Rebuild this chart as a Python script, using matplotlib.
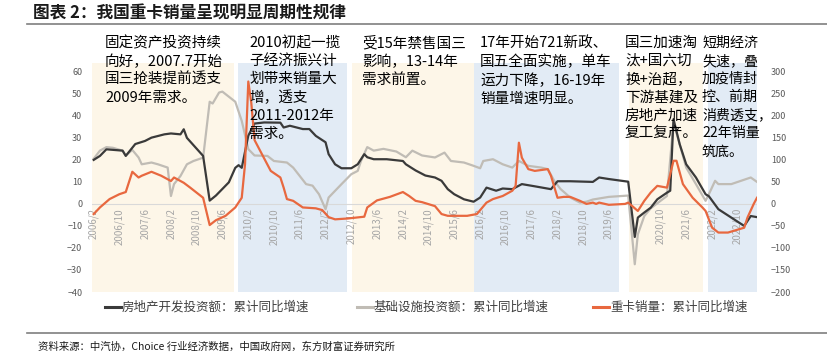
import matplotlib

matplotlib.use("Agg")
import matplotlib.pyplot as plt
from matplotlib.lines import Line2D
import pandas as pd

plt.rcParams["font.family"] = ["Noto Sans CJK SC", "DejaVu Sans"]

# 房地产开发投资额：累计同比增速 (%, left axis)
RE_DATES = [
    "2006-02", "2006-04", "2006-06", "2006-11", "2006-12", "2007-03", "2007-06",
    "2007-08", "2007-12", "2008-02", "2008-05", "2008-06", "2008-07", "2008-12",
    "2009-02", "2009-04", "2009-06", "2009-08", "2009-10", "2009-11", "2009-12",
    "2010-02", "2010-04", "2010-07", "2010-12", "2011-01", "2011-03", "2011-07",
    "2011-09", "2011-11", "2012-02", "2012-03", "2012-05", "2012-07", "2012-10",
    "2012-12", "2013-02", "2013-03", "2013-05", "2013-09", "2014-02", "2014-03",
    "2014-06", "2014-09", "2014-12", "2015-02", "2015-04", "2015-06", "2015-09",
    "2015-12", "2016-02", "2016-04", "2016-07", "2016-09", "2016-12", "2017-03",
    "2017-07", "2017-12", "2018-02", "2018-06", "2019-01", "2019-03", "2019-06",
    "2019-12", "2020-02", "2020-03", "2020-05", "2020-07", "2020-09", "2020-12",
    "2021-01", "2021-02", "2021-04", "2021-06", "2021-09", "2021-12", "2022-01",
    "2022-04", "2022-08", "2022-12", "2023-02", "2023-04",
]
RE_VALS = [
    20.0, 21.8, 24.8, 24.2, 21.8, 27.2, 28.6,
    30.1, 31.6, 32.0, 31.6, 33.9, 30.0, 21.8,
    1.5, 3.8, 6.8, 9.8, 16.4, 17.6, 16.4,
    31.0, 36.5, 37.0, 36.9, 34.7, 35.5, 34.0,
    34.0, 30.9, 28.0, 22.6, 18.0, 16.2, 16.2,
    18.0, 22.6, 21.2, 20.3, 20.3, 19.5, 18.0,
    15.2, 12.9, 12.0, 10.5, 6.7, 4.4, 2.1,
    1.0, 2.9, 7.4, 6.0, 7.0, 6.7, 9.0,
    8.0, 6.7, 10.3, 10.3, 10.0, 12.0, 11.3,
    10.1, -15.0, -6.2, -3.9, -1.7, 2.1, 5.1,
    6.0, 38.5, 27.0, 18.0, 12.0, 4.4, 3.5,
    -2.4, -6.2, -10.0, -5.5, -6.0,
]

# 基础设施投资额：累计同比增速 (%, left axis)
INFRA_DATES = [
    "2006-02", "2006-04", "2006-06", "2006-08", "2006-11", "2006-12", "2007-02",
    "2007-04", "2007-05", "2007-08", "2007-10", "2008-01", "2008-02", "2008-03",
    "2008-05", "2008-07", "2008-09", "2008-12", "2009-02", "2009-03", "2009-05",
    "2009-06", "2009-10", "2009-12", "2010-02", "2010-04", "2010-08", "2010-10",
    "2011-02", "2011-04", "2011-08", "2011-10", "2011-12", "2012-02", "2012-03",
    "2012-07", "2012-10", "2012-12", "2013-01", "2013-03", "2013-05", "2013-08",
    "2013-12", "2014-03", "2014-05", "2014-08", "2014-12", "2015-03", "2015-05",
    "2015-09", "2015-12", "2016-02", "2016-03", "2016-06", "2016-09", "2016-12",
    "2017-02", "2017-05", "2017-09", "2017-11", "2018-01", "2018-03", "2018-06",
    "2018-09", "2018-11", "2019-01", "2019-06", "2019-12", "2020-02", "2020-03",
    "2020-05", "2020-07", "2020-10", "2020-12", "2021-02", "2021-04", "2021-06",
    "2021-09", "2021-12", "2022-01", "2022-03", "2022-04", "2022-08", "2022-11",
    "2023-02", "2023-04",
]
INFRA_VALS = [
    20.5, 24.2, 25.8, 25.5, 24.2, 22.0, 24.5,
    21.1, 18.0, 18.8, 18.0, 16.5, 3.6, 9.0,
    12.7, 18.0, 19.5, 21.0, 46.4, 45.6, 50.6,
    51.0, 46.4, 37.7, 24.9, 22.0, 21.8, 19.5,
    18.8, 16.5, 9.0, 8.3, 4.4, -2.4, 2.9,
    9.0, 13.5, 15.0, 19.5, 25.8, 24.2, 25.0,
    23.8, 21.2, 24.2, 22.0, 21.1, 23.3, 19.5,
    18.8, 17.3, 16.2, 19.5, 20.3, 18.0, 16.5,
    19.5, 17.3, 16.5, 15.8, 10.5, 6.8, 2.9,
    0.6, 1.0, 2.0, 3.2, 3.8, -27.4, -13.8,
    -5.5, -2.0, 1.4, 3.6, 37.0, 27.0, 16.5,
    9.0, 1.4, 4.4, 10.5, 9.0, 9.0, 10.5,
    12.0, 10.0,
]

# 重卡销量：累计同比增速 (%, right axis)
TRUCK_DATES = [
    "2006-02", "2006-04", "2006-07", "2006-10", "2006-12", "2007-02", "2007-04",
    "2007-05", "2007-08", "2007-11", "2008-02", "2008-03", "2008-06", "2008-08",
    "2008-12", "2009-02", "2009-04", "2009-07", "2009-10", "2009-12", "2010-01",
    "2010-02", "2010-03", "2010-04", "2010-06", "2010-09", "2010-12", "2011-01",
    "2011-02", "2011-04", "2011-07", "2011-11", "2012-01", "2012-03", "2012-05",
    "2012-09", "2013-02", "2013-03", "2013-06", "2013-10", "2014-02", "2014-04",
    "2014-06", "2014-08", "2014-12", "2015-02", "2015-04", "2015-10", "2016-01",
    "2016-04", "2016-06", "2016-09", "2016-12", "2017-01", "2017-02", "2017-03",
    "2017-05", "2017-07", "2017-11", "2017-12", "2018-02", "2018-04", "2018-06",
    "2018-09", "2018-11", "2019-01", "2019-02", "2019-03", "2019-06", "2019-11",
    "2019-12", "2020-03", "2020-05", "2020-07", "2020-09", "2020-12", "2021-02",
    "2021-03", "2021-05", "2021-08", "2021-11", "2021-12", "2022-02", "2022-04",
    "2022-07", "2022-12", "2023-01", "2023-03", "2023-04",
]
TRUCK_VALS = [
    -23, -8, 11, 22, 27, 73, 60,
    64, 73, 64, 52, 60, 48, 37,
    14, -48, -37, -27, -8, 14, 90,
    278, 230, 145, 117, 75, 60, 37,
    11, 7, -8, -10, -14, -30, -35,
    -33, -29, -8, 8, 16, 27, 18,
    7, 4, -5, -23, -27, -27, -23,
    3, 11, 18, 30, 41, 139, 105,
    79, 75, 79, 64, 14, 16, 16,
    7, 0, 3, 0, 3, -2, 0,
    3, -16, 7, 26, 41, 37, 98,
    98, 45, 14, -8, -16, -54, -65,
    -65, -54, -31, 0, 14,
]

# background bands: cream = "y", light blue = "b"
BAND_START = ["2006-01-16", "2009-10-28", "2012-10-10", "2015-12-07", "2019-12-10", "2021-12-25"]
BAND_END = ["2009-09-19", "2012-08-22", "2015-12-07", "2019-09-07", "2021-11-10", "2023-04-01"]
BAND_KIND = ["y", "b", "y", "b", "y", "b"]

XTICK_LABELS = [
    "2006/2", "2006/10", "2007/6", "2008/2", "2008/10", "2009/6", "2010/2",
    "2010/10", "2011/6", "2012/2", "2012/10", "2013/6", "2014/2", "2014/10",
    "2015/6", "2016/2", "2016/10", "2017/6", "2018/2", "2018/10", "2019/6",
    "2020/10", "2021/6", "2022/2", "2022/10",
]

NOTES = [
    "固定资产投资持续\n向好，2007.7开始\n国三抢装提前透支\n2009年需求。",
    "2010初起一揽\n子经济振兴计\n划带来销量大\n增，透支\n2011-2012年\n需求。",
    "受15年禁售国三\n影响，13-14年\n需求前置。",
    "17年开始721新政、\n国五全面实施，单车\n运力下降，16-19年\n销量增速明显。",
    "国三加速淘\n汰+国六切\n换+治超，\n下游基建及\n房地产加速\n复工复产。",
    "短期经济\n失速，叠\n加疫情封\n控、前期\n消费透支，\n22年销量\n筑底。",
]
NOTE_X = [105, 249, 362, 480, 625, 702]
NOTE_SIZE = [10.5, 10.5, 10.5, 10.5, 10.5, 10.1]

C_RE = "#3a3a3a"
C_INFRA = "#c0bcb5"
C_TRUCK = "#e8683f"
C_YELLOW = "#fdf6e8"
C_BLUE = "#e2ebf5"
TICK_GRAY = "#595959"

W, H = 828, 364


def d(s):
    return pd.to_datetime(s)


fig = plt.figure(figsize=(W / 100, H / 100), dpi=100)
fig.patch.set_facecolor("white")
ax = fig.add_axes([92 / W, 1 - 292 / H, (757 - 92) / W, (292 - 63) / H])
ax2 = ax.twinx()

for s, e, k in zip(BAND_START, BAND_END, BAND_KIND):
    ax.axvspan(d(s), d(e), color=C_YELLOW if k == "y" else C_BLUE, lw=0, zorder=0)

ax.axhline(0, color="#d9d9d9", lw=0.8, zorder=1)
ax.plot(d(INFRA_DATES), INFRA_VALS, color=C_INFRA, lw=1.6, zorder=2)
ax.plot(d(RE_DATES), RE_VALS, color=C_RE, lw=1.6, zorder=3)
ax2.plot(d(TRUCK_DATES), TRUCK_VALS, color=C_TRUCK, lw=1.6, zorder=3)

ax.set_xlim(d("2006-01-16"), d("2023-04-01"))
ax.set_ylim(-40, 64)
ax2.set_ylim(-200, 320)
ax.set_yticks(range(-40, 61, 10))
ax2.set_yticks(range(-200, 301, 50))

for a in (ax, ax2):
    for sp in a.spines.values():
        sp.set_visible(False)
    a.tick_params(axis="y", length=0, labelsize=6.5, labelcolor=TICK_GRAY)
ax.tick_params(axis="y", pad=7)
ax2.tick_params(axis="y", pad=10)

# x labels hang from the zero line
ax.set_xticks(d([t.replace("/", "-") for t in XTICK_LABELS]))
ax.set_xticklabels([])
ax.tick_params(axis="x", length=0)
for t in XTICK_LABELS:
    ax.text(d(t.replace("/", "-")), -1.8, t, rotation=90, ha="center", va="top",
            fontsize=7, color="#a6a6a6", zorder=1)

# annotation blocks
for txt, x, fs in zip(NOTES, NOTE_X, NOTE_SIZE):
    fig.text(x / W, 1 - 36 / H, txt, ha="left", va="top", fontsize=fs,
             color="black", linespacing=1.37, zorder=10)

# title and rules
fig.text(33 / W, 1 - 14 / H, "图表 2：我国重卡销量呈现明显周期性规律", ha="left",
         va="center", fontsize=12, fontweight="bold", color="#1a1a1a")
fig.add_artist(Line2D([27 / W, 1.0], [1 - 24 / H, 1 - 24 / H], color="#7f7f7f", lw=1.2))
fig.add_artist(Line2D([27 / W, 1.0], [1 - 333 / H, 1 - 333 / H], color="#7f7f7f", lw=1.2))
fig.text(38 / W, 1 - 347 / H,
         "资料来源：中汽协，Choice 行业经济数据，中国政府网，东方财富证券研究所",
         ha="left", va="center", fontsize=7.5, color="#1a1a1a")

# legend
legend_items = [
    (105, C_RE, "房地产开发投资额：累计同比增速"),
    (357, C_INFRA, "基础设施投资额：累计同比增速"),
    (593, C_TRUCK, "重卡销量：累计同比增速"),
]
ly = 1 - 307 / H
for x0, c, label in legend_items:
    fig.add_artist(Line2D([x0 / W, (x0 + 16) / W], [ly, ly], color=c, lw=2.2))
    fig.text((x0 + 17) / W, ly, label, ha="left", va="center", fontsize=9,
             color="#404040")

fig.savefig("out.png", dpi=100, facecolor="white")
plt.close(fig)
